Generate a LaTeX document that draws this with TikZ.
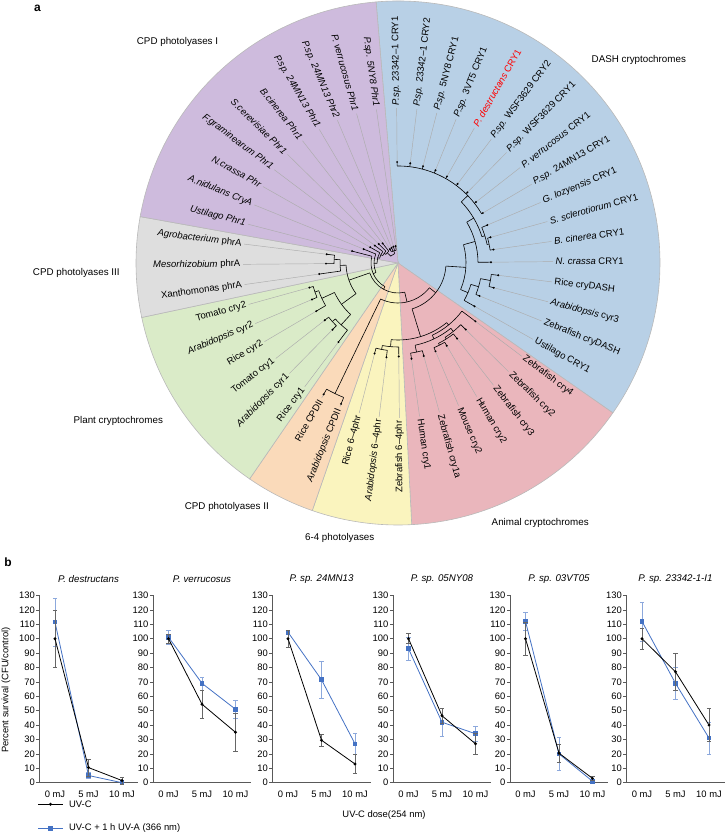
\documentclass[tikz,border=0pt]{standalone}
\usepackage{fontspec}
\setmainfont{Liberation Sans}
\usetikzlibrary{calc}

\definecolor{cpdone}{RGB}{206,187,221}
\definecolor{dashcry}{RGB}{184,208,230}
\definecolor{cpdthree}{RGB}{222,222,222}
\definecolor{plantcry}{RGB}{218,235,200}
\definecolor{cpdtwo}{RGB}{250,218,186}
\definecolor{sixfour}{RGB}{250,244,190}
\definecolor{animalcry}{RGB}{234,182,188}
\definecolor{uvablue}{RGB}{68,114,196}
\definecolor{uvaerr}{RGB}{140,168,220}

\tikzset{
  branch/.style={black, line width=0.6pt},
  leader/.style={gray!65, line width=0.45pt},
  leaflabel/.style={font=\fontsize{9.5}{10}\selectfont, inner sep=0.5pt},
  grouplabel/.style={font=\fontsize{9.8}{11}\selectfont},
  sectorline/.style={gray!55, line width=0.6pt},
  axisline/.style={gray!70!black, line width=0.8pt},
  ticklabel/.style={font=\fontsize{9.4}{10}\selectfont, inner sep=1pt},
  plottitle/.style={font=\fontsize{9.7}{11}\selectfont\itshape},
  bluemark/.style={rectangle, fill=uvablue, inner sep=0pt, minimum size=4.6pt},
  panel/.style={font=\fontsize{12}{14}\selectfont\bfseries}
}

% arc of a clade and radial twig, both round the tree centre C
\newcommand{\arcat}[3]{\draw[branch] ([shift={(#2:#1)}]C) arc[start angle=#2, end angle=#3, radius=#1];}
\newcommand{\spoke}[3]{\draw[branch] ([shift={(#1:#2)}]C) -- ([shift={(#1:#3)}]C);}
% survival scale of panel b
\newcommand{\yv}[1]{(51.3+1.44*(#1))}
\newcommand{\errbar}[4]{\draw[#1] ({#2-2.2},{\yv{#3-#4}}) -- ({#2+2.2},{\yv{#3-#4}})
    ({#2},{\yv{#3-#4}}) -- ({#2},{\yv{#3+#4}})
    ({#2-2.2},{\yv{#3+#4}}) -- ({#2+2.2},{\yv{#3+#4}});}

\begin{document}
\begin{tikzpicture}[x=1pt, y=1pt]
\useasboundingbox (0,0) rectangle (726,834);
\coordinate (C) at (398,571);

% sectors
\foreach \col/\s/\e in {dashcry/94.8/-34.9, animalcry/-34.9/-87, sixfour/-87/-109.1,
    cpdtwo/-109.1/-124.5, plantcry/-124.5/-168, cpdthree/-168/-190.2, cpdone/-190.2/-265.2}{
  \fill[\col] (C) -- ([shift={(\s:262)}]C) arc[start angle=\s, end angle=\e, radius=262] -- cycle;
  \draw[sectorline] (C) -- ([shift={(\s:262)}]C) arc[start angle=\s, end angle=\e, radius=262] -- cycle;
}

% group names
\node[grouplabel] (cpdI) at (177.5,792.3) {CPD photolyases I};
\node[grouplabel] (dash) at (638.8,774) {DASH cryptochromes};
\node[grouplabel] (cpdIII) at (76.3,560.7) {CPD photolyases III};
\node[grouplabel] (plant) at (118.3,413.3) {Plant cryptochromes};
\node[grouplabel] (cpdII) at (226.8,327.3) {CPD photolyases II};
\node[grouplabel] (sixfour) at (339.7,295.7) {6-4 photolyases};
\node[grouplabel] (animal) at (540.2,311.3) {Animal cryptochromes};
\node[panel] (pa) at (37.5,826) {a};

% leaves: index / parent radius / tip radius / name
\foreach \i/\p/\t/\txt in {
  0/97/101/{\textit{P.sp.} 23342–1 CRY1}, 1/97/100.5/{\textit{P.sp.} 23342–1 CRY2},
  2/97/100/{\textit{P.sp.} 5NY8 CRY1}, 3/97/100/{\textit{P.sp.} 3VT5 CRY1},
  4/97/99.5/{\color{red}\textit{P. destructans} CRY1}, 5/97/99/{\textit{P.sp.} WSF3629 CRY2},
  6/97/99/{\textit{P.sp.} WSF3629 CRY1}, 7/97/99/{\textit{P. verrucosus} CRY1},
  8/97/98.5/{\textit{P.sp.} 24MN13 CRY1}, 9/91/97/{\textit{G. lozyensis} CRY1},
  10/93/96/{\textit{S. sclerotiorum} CRY1}, 11/93/96.5/{\textit{B. cinerea} CRY1},
  12/80/93/{\textit{N. crassa} CRY1}, 13/94/101/{Rice cryDASH},
  14/94/99/{\textit{Arabidopsis} cyr3}, 15/84/88/{Zebrafish cryDASH},
  16/76/88/{Ustilago CRY1}, 17/80/97/{Zebrafish cry4},
  18/88/95/{Zebrafish cry2}, 19/90/96/{Zebrafish cry3},
  20/92/96/{Human cry2}, 21/92/96/{Mouse cry2},
  22/91/96.5/{Zebrafish cry1a}, 23/91/96.7/{Human cry1},
  24/84/93.5/{Zebrafish 6–4phr}, 25/88/95/{\textit{Arabidopsis} 6–4phr},
  26/88/93.5/{Rice 6–4phr}, 27/145/152/{\textit{Arabidopsis} CPDII},
  28/145/151/{Rice CPDII}, 29/84/99/{Rice cry1},
  30/88/93.5/{\textit{Arabidopsis} cyr1}, 31/88/93/{Tomato cry1},
  32/84/95/{Rice cyr2}, 33/88/93.5/{\textit{Arabidopsis} cyr2},
  34/88/92/{Tomato cry2}, 35/58/79.5/{Xanthomonas phrA},
  36/64/72/{\textit{Mesorhizobium} phrA}, 37/64/71.7/{\textit{Agrobacterium} phrA},
  38/27/47.5/{\textit{Ustilago Phr1}}, 39/24/37/{\textit{A.nidulans CryA}},
  40/21/32/{\textit{N.crassa Phr}}, 41/19/29/{\textit{F.graminearum Phr1}},
  42/17/27/{\textit{S.cerevisiae Phr1}}, 43/15/25/{\textit{B.cinerea Phr1}},
  44/13/16/{\textit{P.sp. 24MN13 Phr1}}, 45/13/16.5/{\textit{P.sp. 24MN13 Phr2}},
  46/13/17/{\textit{P. verrucosus Phr1}}, 47/13/17/{\textit{P.sp. 5NY8 Phr1}}}{
  \pgfmathsetmacro{\a}{90.5-7.5*\i}
  \ifdim\a pt<-86pt \def\rot{\a+180}\def\anc{east}\else\def\rot{\a}\def\anc{west}\fi
  \spoke{\a}{\p}{\t}
  \draw[leader] ([shift={(\a:\t)}]C) -- ([shift={(\a:155)}]C);
  \fill ([shift={(\a:\t)}]C) circle[radius=1.1];
  \node[leaflabel, rotate=\rot, anchor=\anc] (leaf\i) at ([shift={(\a:157)}]C) {\txt};
}

% DASH clade
\arcat{97}{90.5}{30.5}
\arcat{93}{15.5}{8}
\arcat{91}{23}{11.75} \spoke{11.75}{91}{93}
\arcat{88}{44}{17.4} \spoke{44}{88}{97} \spoke{17.4}{88}{91}
\arcat{80}{30.7}{0.5} \spoke{30.7}{80}{88}
\arcat{94}{-7}{-14.5}
\arcat{84}{-10.75}{-22} \spoke{-10.75}{84}{94}
\arcat{76}{-16.4}{-29.5} \spoke{-16.4}{76}{84}
\arcat{68}{15.6}{-23} \spoke{15.6}{68}{80} \spoke{-23}{68}{76}
% animal clade
\arcat{92}{-59.5}{-67}
\arcat{90}{-52}{-63.25} \spoke{-63.25}{90}{92}
\arcat{88}{-44.5}{-57.6} \spoke{-57.6}{88}{90}
\arcat{91}{-74.5}{-82}
\arcat{84}{-51.05}{-78.25} \spoke{-51.05}{84}{88} \spoke{-78.25}{84}{91}
\arcat{80}{-37}{-64.65} \spoke{-64.65}{80}{84}
% 6-4 clade
\arcat{88}{-97}{-104.5}
\arcat{84}{-89.5}{-100.75} \spoke{-100.75}{84}{88}
\arcat{77}{-50.8}{-95.1} \spoke{-50.8}{77}{80} \spoke{-95.1}{77}{84}
\arcat{48}{-3.7}{-72.95} \spoke{-3.7}{48}{68} \spoke{-72.95}{48}{77}
% CPD II
\arcat{145}{-112}{-119.5}
\arcat{40}{-38.3}{-115.75} \spoke{-38.3}{40}{48} \spoke{-115.75}{40}{145}
% plant clade
\arcat{88}{-164.5}{-157}
\arcat{84}{-160.75}{-149.5} \spoke{-160.75}{84}{88}
\arcat{88}{-142}{-134.5}
\arcat{84}{-138.25}{-127} \spoke{-138.25}{84}{88}
\arcat{70}{-155.1}{-132.6} \spoke{-155.1}{70}{84} \spoke{-132.6}{70}{84}
% CPD III
\arcat{64}{-187}{-179.5}
\arcat{58}{-183.25}{-172} \spoke{-183.25}{58}{64}
\arcat{52}{-177.6}{-143.85} \spoke{-177.6}{52}{58} \spoke{-143.85}{52}{70}
% spine through CPD I
\arcat{30}{-160.7}{-77} \spoke{-160.7}{30}{52} \spoke{-77}{30}{40}
\arcat{27}{-194.5}{-118.85} \spoke{-118.85}{27}{30}
\arcat{24}{-202}{-156.7} \spoke{-156.7}{24}{27}
\arcat{21}{-209.5}{-179.35} \spoke{-179.35}{21}{24}
\arcat{19}{-217}{-194.4} \spoke{-194.4}{19}{21}
\arcat{17}{-224.5}{-205.7} \spoke{-205.7}{17}{19}
\arcat{15}{-232}{-215.1} \spoke{-215.1}{15}{17}
\arcat{13}{-239.5}{-262}
\arcat{10}{-223.55}{-250.75} \spoke{-223.55}{10}{15} \spoke{-250.75}{10}{13}

% panel b
\node[panel] (pb) at (8,272) {b};
\foreach \k/\ax/\ttl/\ka/\ea/\kb/\eb/\kc/\ec/\ba/\fa/\bb/\fb/\bc/\fc in {
  1/39.5/{P. destructans}/100/20/10.5/6/1.5/2.5/111.5/16.5/5/2/0/0.8,
  2/153/{P. verrucosus}/100/3/54.5/10/35/13.5/101/5/69/4.5/51/6,
  3/272.5/{P. sp. 24MN13}/100/6/29.5/4/13/6.5/104.5/1.5/71.5/13/27/7,
  4/393/{P. sp. 05NY08}/100/3.5/46.5/5.5/27/7.5/93/8/42/10/34/5.5,
  5/510/{P. sp. 03VT05}/100/11.5/20.5/6.5/3/1.5/112/6.5/20/11.5/1/1,
  6/626.5/{P. sp. 23342-1-I1}/100/7.5/77/13/40/11.5/112/13.5/69/11/31/11}{
  \draw[axisline] (\ax,{\yv{130}}) -- (\ax,51.3) -- ({\ax+98},51.3);
  \foreach \v in {0,10,...,130}{
    \draw[axisline, line width=0.5pt] (\ax,{\yv{\v}}) -- ({\ax-3.5},{\yv{\v}});
    \node[ticklabel, anchor=east] (tk\k-\v) at ({\ax-3.5},{\yv{\v}}) {\v};
  }
  \node[ticklabel] (xa\k) at ({\ax+15.5},40) {0 mJ};
  \node[ticklabel] (xb\k) at ({\ax+49},40) {5 mJ};
  \node[ticklabel] (xc\k) at ({\ax+82.5},40) {10 mJ};
  \node[plottitle] (ttl\k) at ({\ax+49},255) {\ttl};
  \coordinate (ba\k) at ({\ax+15.5},{\yv{\ba}});
  \coordinate (bb\k) at ({\ax+49},{\yv{\bb}});
  \coordinate (bc\k) at ({\ax+82.5},{\yv{\bc}});
  \coordinate (ka\k) at ({\ax+15.5},{\yv{\ka}});
  \coordinate (kb\k) at ({\ax+49},{\yv{\kb}});
  \coordinate (kc\k) at ({\ax+82.5},{\yv{\kc}});
  % UV-C + UV-A
  \errbar{uvaerr, line width=0.6pt}{\ax+15.5}{\ba}{\fa}
  \errbar{uvaerr, line width=0.6pt}{\ax+49}{\bb}{\fb}
  \errbar{uvaerr, line width=0.6pt}{\ax+82.5}{\bc}{\fc}
  \draw[uvablue, line width=0.8pt] (ba\k) -- (bb\k) -- (bc\k);
  \node[bluemark] (sqa\k) at (ba\k) {};
  \node[bluemark] (sqb\k) at (bb\k) {};
  \node[bluemark] (sqc\k) at (bc\k) {};
  % UV-C
  \errbar{gray!80!black, line width=0.6pt}{\ax+15.5}{\ka}{\ea}
  \errbar{gray!80!black, line width=0.6pt}{\ax+49}{\kb}{\eb}
  \errbar{gray!80!black, line width=0.6pt}{\ax+82.5}{\kc}{\ec}
  \draw[black, line width=0.8pt] (ka\k) -- (kb\k) -- (kc\k);
  \foreach \c in {ka,kb,kc}{\fill (\c\k) circle[radius=1.6];}
}

\node[ticklabel, rotate=90] (ylab) at (6,144) {Percent survival (CFU/control)};
\node[ticklabel] (xlab) at (384,19) {UV-C dose(254 nm)};

% legend
\coordinate (lga) at (38,29.7);
\coordinate (lgb) at (63,29.7);
\coordinate (lgc) at (38,5.7);
\coordinate (lgd) at (63,5.7);
\draw[black, line width=0.8pt] (lga) -- (lgb);
\fill ($(lga)!0.5!(lgb)$) circle[radius=1.6];
\node[ticklabel, anchor=west] (lgtxt1) at (68,29.7) {UV-C};
\draw[uvablue, line width=0.8pt] (lgc) -- (lgd);
\node[bluemark] (lgsq) at ($(lgc)!0.5!(lgd)$) {};
\node[ticklabel, anchor=west] (lgtxt2) at (68,5.7) {UV-C + 1 h UV-A (366 nm)};
\end{tikzpicture}
\end{document}
